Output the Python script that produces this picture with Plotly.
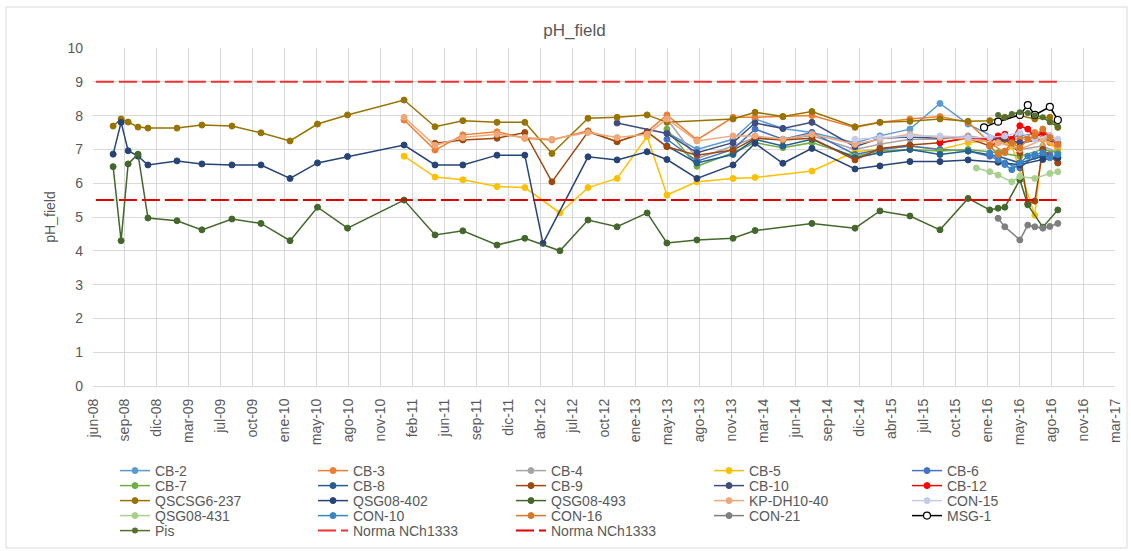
import plotly.graph_objects as go
import pandas as pd

# ---------------- data ----------------
chart_title = "pH_field"
y_title = "pH_field"

x_tick_labels = ["jun-08", "sep-08", "dic-08", "mar-09", "jul-09", "oct-09", "ene-10", "may-10",
                 "ago-10", "nov-10", "feb-11", "jun-11", "sep-11", "dic-11", "abr-12", "jul-12",
                 "oct-12", "ene-13", "may-13", "ago-13", "nov-13", "mar-14", "jun-14", "sep-14",
                 "dic-14", "abr-15", "jul-15", "oct-15", "ene-16", "may-16", "ago-16", "nov-16",
                 "mar-17"]
x_axis_start = "2008-06-01"
x_tick_step_days = 100

early_dates = ["2008-08-03", "2008-08-28", "2008-09-19", "2008-10-20", "2008-11-20", "2009-02-19",
               "2009-05-08", "2009-08-10", "2009-11-09", "2010-02-08", "2010-05-05", "2010-08-07"]

cb2_dates = ["2013-05-03", "2013-08-05", "2013-11-26", "2014-02-03", "2014-05-01", "2014-07-31",
             "2014-12-13", "2015-03-01", "2015-06-03", "2015-09-05", "2015-12-02", "2016-03-05",
             "2016-05-12", "2016-07-23", "2016-09-08"]
cb2_ph = [7.50, 7.00, 7.30, 7.90, 7.62, 7.50, 7.20, 7.40, 7.60, 8.36, 7.75, 7.30, 7.40, 7.50, 7.20]

cb3_dates = ["2011-01-31", "2011-05-08", "2011-08-03", "2011-11-18", "2012-02-13", "2012-05-08",
             "2012-08-29", "2012-11-28", "2013-03-02", "2013-05-03", "2013-08-05", "2013-11-26",
             "2014-02-03", "2014-05-01", "2014-07-31", "2014-12-13", "2015-03-01", "2015-06-03",
             "2015-09-05", "2015-12-02", "2016-02-08", "2016-03-26", "2016-05-12", "2016-06-28",
             "2016-08-14", "2016-09-08"]
cb3_ph = [7.87, 6.98, 7.43, 7.52, 7.33, 7.28, 7.55, 7.23, 7.52, 8.02, 7.28, 7.95, 7.95, 7.97, 8.00,
          7.65, 7.80, 7.90, 7.97, 7.80, 7.20, 6.90, 7.30, 7.50, 7.20, 7.00]

cb4_dates = ["2013-05-03", "2013-08-05", "2013-11-26", "2014-02-03", "2014-05-01", "2014-07-31",
             "2014-12-13", "2015-03-01", "2015-06-03", "2015-09-05", "2015-12-02", "2016-03-05",
             "2016-05-12", "2016-07-23", "2016-09-08"]
cb4_ph = [7.90, 6.73, 7.10, 7.35, 7.30, 7.40, 7.00, 7.15, 7.30, 7.30, 7.40, 7.25, 7.00, 7.10, 6.90]

cb5_dates = ["2011-01-31", "2011-05-08", "2011-08-03", "2011-11-18", "2012-02-13", "2012-06-02",
             "2012-08-29", "2012-11-28", "2013-03-02", "2013-05-03", "2013-08-05", "2013-11-26",
             "2014-02-03", "2014-07-31", "2014-12-13", "2015-03-01", "2015-06-03", "2015-09-05",
             "2015-12-02", "2016-03-05", "2016-04-17", "2016-06-28", "2016-07-23", "2016-09-08"]
cb5_ph = [6.80, 6.18, 6.10, 5.90, 5.87, 5.12, 5.87, 6.14, 7.38, 5.65, 6.04, 6.14, 6.17, 6.36, 6.93,
          7.00, 7.10, 7.00, 7.20, 7.30, 7.10, 5.05, 7.30, 7.00]

cb6_dates = ["2013-05-03", "2013-08-05", "2013-11-26", "2014-02-03", "2014-05-01", "2014-07-31",
             "2014-12-13", "2015-03-01", "2015-06-03", "2015-09-05", "2015-12-02", "2016-02-08",
             "2016-03-26", "2016-05-12", "2016-06-28", "2016-08-14", "2016-09-08"]
cb6_ph = [7.30, 6.65, 7.00, 7.60, 7.30, 7.50, 6.85, 7.00, 7.10, 7.00, 6.95, 6.80, 6.60, 6.45, 6.80,
          6.85, 6.60]

cb7_dates = ["2013-05-03", "2013-08-05", "2013-11-26", "2014-02-03", "2014-05-01", "2014-07-31",
             "2014-12-13", "2015-03-01", "2015-06-03", "2015-09-05", "2015-12-02", "2016-03-05",
             "2016-05-12", "2016-07-23", "2016-09-08"]
cb7_ph = [7.60, 6.50, 6.90, 7.20, 7.05, 7.20, 6.80, 6.95, 7.00, 6.95, 7.00, 6.90, 6.80, 7.00, 6.90]

cb8_dates = ["2013-05-03", "2013-08-05", "2013-11-26", "2014-02-03", "2014-05-01", "2014-07-31",
             "2014-12-13", "2015-03-01", "2015-06-03", "2015-09-05", "2015-12-02", "2016-03-05",
             "2016-05-12", "2016-07-23", "2016-09-08"]
cb8_ph = [7.10, 6.60, 6.85, 7.30, 7.10, 7.30, 6.75, 6.90, 7.00, 6.85, 6.95, 6.80, 6.60, 6.80, 6.75]

cb9_dates = ["2011-05-08", "2011-08-03", "2011-11-18", "2012-02-13", "2012-05-08", "2012-08-29",
             "2012-11-28", "2013-03-02", "2013-05-03", "2013-08-05", "2013-11-26", "2014-02-03",
             "2014-05-01", "2014-07-31", "2014-12-13", "2015-03-01", "2015-06-03", "2015-09-05",
             "2015-12-02", "2016-02-08", "2016-03-26", "2016-05-12", "2016-06-06", "2016-06-28",
             "2016-07-23", "2016-09-08"]
cb9_ph = [7.18, 7.28, 7.33, 7.50, 6.04, 7.52, 7.23, 7.52, 7.08, 6.83, 6.98, 7.33, 7.28, 7.33, 6.69,
          7.03, 7.13, 7.20, 7.33, 7.10, 7.30, 6.90, 5.40, 5.47, 7.00, 6.60]

cb10_dates = ["2012-11-28", "2013-05-03", "2013-08-05", "2013-11-26", "2014-02-03", "2014-05-01",
              "2014-07-31", "2014-12-13", "2015-03-01", "2015-06-03", "2015-09-05", "2015-12-02",
              "2016-03-05", "2016-05-12", "2016-07-23", "2016-09-08"]
cb10_ph = [7.78, 7.47, 6.90, 7.20, 7.78, 7.62, 7.80, 7.08, 7.33, 7.37, 7.33, 7.33, 7.30, 7.20, 7.30,
           7.20]

cb12_dates = ["2015-09-05", "2015-12-02", "2016-02-08", "2016-03-05", "2016-03-26", "2016-04-17",
              "2016-05-12", "2016-06-06", "2016-06-28", "2016-07-23", "2016-08-14", "2016-09-08"]
cb12_ph = [7.20, 7.35, 7.30, 7.40, 7.45, 7.30, 7.70, 7.60, 7.35, 7.50, 7.40, 7.10]

qscsg_dates = early_dates + [
    "2011-01-31", "2011-05-08", "2011-08-03", "2011-11-18", "2012-02-13", "2012-05-08",
    "2012-08-29", "2012-11-28", "2013-03-02", "2013-05-03", "2013-11-26", "2014-02-03",
    "2014-05-01", "2014-07-31", "2014-12-13", "2015-03-01", "2015-06-03", "2015-09-05",
    "2015-12-02", "2016-02-08", "2016-03-26", "2016-05-12", "2016-06-28", "2016-08-14",
    "2016-09-08"]
qscsg_ph = [7.69, 7.90, 7.81, 7.66, 7.63, 7.63, 7.72, 7.69, 7.49, 7.25, 7.75, 8.02,
            8.46, 7.67, 7.85, 7.80, 7.80, 6.88, 7.92, 7.95, 8.02, 7.80, 7.90, 8.10, 7.97, 8.12,
            7.67, 7.80, 7.83, 7.90, 7.83, 7.85, 7.95, 8.00, 7.90, 7.95, 7.65]

qsg402_dates = early_dates + [
    "2011-01-31", "2011-05-08", "2011-08-03", "2011-11-18", "2012-02-13", "2012-04-10",
    "2012-08-29", "2012-11-28", "2013-03-02", "2013-05-03", "2013-08-05", "2013-11-26",
    "2014-02-03", "2014-05-01", "2014-07-31", "2014-12-13", "2015-03-01", "2015-06-03",
    "2015-09-05", "2015-12-02", "2016-03-05", "2016-05-12", "2016-07-23", "2016-09-08"]
qsg402_ph = [6.86, 7.80, 6.96, 6.80, 6.54, 6.66, 6.57, 6.54, 6.54, 6.14, 6.60, 6.79,
             7.13, 6.54, 6.54, 6.83, 6.83, 4.22, 6.78, 6.69, 6.93, 6.70, 6.14, 6.54,
             7.18, 6.59, 7.03, 6.42, 6.51, 6.64, 6.64, 6.69, 6.62, 6.55, 6.70, 6.75]

qsg493_dates = early_dates + [
    "2011-01-31", "2011-05-08", "2011-08-03", "2011-11-18", "2012-02-13", "2012-06-02",
    "2012-08-29", "2012-11-28", "2013-03-02", "2013-05-03", "2013-08-05", "2013-11-26",
    "2014-02-03", "2014-07-31", "2014-12-13", "2015-03-01", "2015-06-03", "2015-09-05",
    "2015-12-02", "2016-02-08", "2016-03-05", "2016-03-26", "2016-05-12", "2016-06-06",
    "2016-07-23", "2016-09-08"]
qsg493_ph = [6.49, 4.30, 6.57, 6.86, 4.97, 4.89, 4.62, 4.94, 4.81, 4.30, 5.29, 4.67,
             5.50, 4.47, 4.59, 4.17, 4.37, 4.00, 4.91, 4.71, 5.12, 4.23, 4.32, 4.37,
             4.60, 4.81, 4.67, 5.18, 5.03, 4.62, 5.55, 5.21, 5.26, 5.29, 6.10, 5.36,
             4.70, 5.21]

kp_dates = ["2011-01-31", "2011-05-08", "2011-08-03", "2011-11-18", "2012-02-13", "2012-05-08",
            "2012-08-29", "2012-11-28", "2013-03-02", "2013-05-03", "2013-08-05", "2013-11-26",
            "2014-02-03", "2014-05-01", "2014-07-31", "2014-12-13", "2015-03-01", "2015-06-03",
            "2015-09-05", "2015-12-02", "2016-03-05", "2016-05-12", "2016-07-23", "2016-09-08"]
kp_ph = [7.95, 7.12, 7.35, 7.45, 7.35, 7.30, 7.50, 7.35, 7.45, 7.90, 7.25, 7.40, 7.40, 7.30, 7.45,
         7.15, 7.30, 7.45, 7.35, 7.30, 7.20, 7.00, 7.30, 7.10]

con15_dates = ["2014-12-13", "2015-03-01", "2015-06-03", "2015-09-05", "2015-12-02", "2016-02-08",
               "2016-03-26", "2016-05-12", "2016-06-28", "2016-08-14", "2016-09-08"]
con15_ph = [7.30, 7.35, 7.40, 7.40, 7.35, 7.35, 7.40, 7.50, 7.30, 7.40, 7.30]

qsg431_dates = ["2015-12-28", "2016-02-08", "2016-03-05", "2016-04-17", "2016-05-12", "2016-06-28",
                "2016-08-14", "2016-09-08"]
qsg431_ph = [6.45, 6.34, 6.24, 6.04, 6.20, 6.14, 6.29, 6.34]

con10_dates = ["2016-02-08", "2016-03-05", "2016-03-26", "2016-04-17", "2016-05-12", "2016-06-06",
               "2016-06-28", "2016-07-23", "2016-08-14", "2016-09-08"]
con10_ph = [6.90, 6.70, 6.55, 6.40, 6.60, 6.80, 6.85, 6.90, 6.75, 6.85]

con16_dates = ["2016-02-08", "2016-03-05", "2016-03-26", "2016-04-17", "2016-05-12", "2016-06-06",
               "2016-06-28", "2016-07-23", "2016-08-14", "2016-09-08"]
con16_ph = [7.10, 6.85, 6.95, 7.20, 7.05, 7.30, 7.40, 7.60, 7.35, 7.15]

con21_dates = ["2016-03-05", "2016-03-26", "2016-05-12", "2016-06-06", "2016-06-28", "2016-07-23",
               "2016-08-14", "2016-09-08"]
con21_ph = [4.96, 4.71, 4.32, 4.76, 4.71, 4.67, 4.72, 4.81]

msg1_dates = ["2016-01-21", "2016-03-05", "2016-05-12", "2016-06-06", "2016-06-28", "2016-08-14",
              "2016-09-08"]
msg1_ph = [7.65, 7.82, 8.02, 8.31, 8.02, 8.26, 7.87]

pis_dates = ["2016-03-05", "2016-03-26", "2016-04-17", "2016-05-12", "2016-06-06", "2016-06-28",
             "2016-07-23", "2016-08-14", "2016-09-08"]
pis_ph = [8.02, 7.95, 8.05, 8.10, 8.08, 8.00, 7.95, 7.80, 7.67]

norma_dates = ["2008-06-10", "2016-09-05"]
norma_max = [9.0, 9.0]
norma_min = [5.5, 5.5]

# ---------------- styling ----------------
FONT = "Liberation Sans, Arial, sans-serif"
GREY_TXT = "#595959"
GRID = "#D9D9D9"

# plot area in pixels (for placing legends / frame in paper units)
PL, PR, PT, PB = 93, 1115, 48, 386
PW, PH = PR - PL, PB - PT


def px_x(px):
    return (px - PL) / PW


def px_y(py):
    return (PB - py) / PH


series = [
    # name, dates, values, colour, legend
    ("CB-2", cb2_dates, cb2_ph, "#5B9BD5", "legend"),
    ("CB-3", cb3_dates, cb3_ph, "#ED7D31", "legend"),
    ("CB-4", cb4_dates, cb4_ph, "#A5A5A5", "legend"),
    ("CB-5", cb5_dates, cb5_ph, "#FFC000", "legend"),
    ("CB-6", cb6_dates, cb6_ph, "#4472C4", "legend"),
    ("CB-7", cb7_dates, cb7_ph, "#70AD47", "legend2"),
    ("CB-8", cb8_dates, cb8_ph, "#255E91", "legend2"),
    ("CB-9", cb9_dates, cb9_ph, "#9E480E", "legend2"),
    ("CB-10", cb10_dates, cb10_ph, "#404C80", "legend2"),
    ("CB-12", cb12_dates, cb12_ph, "#FF0000", "legend2"),
    ("QSCSG6-237", qscsg_dates, qscsg_ph, "#997300", "legend3"),
    ("QSG08-402", qsg402_dates, qsg402_ph, "#264478", "legend3"),
    ("QSG08-493", qsg493_dates, qsg493_ph, "#43682B", "legend3"),
    ("KP-DH10-40", kp_dates, kp_ph, "#F1A878", "legend3"),
    ("CON-15", con15_dates, con15_ph, "#C5CAE9", "legend3"),
    ("QSG08-431", qsg431_dates, qsg431_ph, "#A9D18E", "legend4"),
    ("CON-10", con10_dates, con10_ph, "#3B84C4", "legend4"),
    ("CON-16", con16_dates, con16_ph, "#D9772A", "legend4"),
    ("CON-21", con21_dates, con21_ph, "#7F7F7F", "legend4"),
]

fig = go.Figure()

for name, xs, ys, col, leg in series:
    assert len(xs) == len(ys), name
    fig.add_trace(go.Scatter(
        x=xs, y=ys, name=name, mode="lines+markers", legend=leg,
        line=dict(color=col, width=1.5),
        marker=dict(color=col, size=6, line=dict(color=col, width=1)),
    ))

assert len(msg1_dates) == len(msg1_ph)
fig.add_trace(go.Scatter(
    x=msg1_dates, y=msg1_ph, name="MSG-1", mode="lines+markers", legend="legend4",
    line=dict(color="#000000", width=1.5),
    marker=dict(color="#FFFFFF", size=7, line=dict(color="#000000", width=1.2)),
))

assert len(pis_dates) == len(pis_ph)
fig.add_trace(go.Scatter(
    x=pis_dates, y=pis_ph, name="Pis", mode="lines+markers", legend="legend5",
    line=dict(color="#55702F", width=1.5),
    marker=dict(color="#55702F", size=6),
))

fig.add_trace(go.Scatter(
    x=norma_dates, y=norma_max, name="Norma NCh1333", mode="lines", legend="legend5",
    line=dict(color="#F03030", width=2, dash="18px,5px"),
))
fig.add_trace(go.Scatter(
    x=norma_dates, y=norma_min, name="Norma NCh1333", mode="lines", legend="legend5",
    line=dict(color="#E00000", width=2, dash="18px,5px"),
))

# x ticks every 100 days from the axis origin
tick_dates = pd.date_range(x_axis_start, periods=len(x_tick_labels), freq=f"{x_tick_step_days}D")
tick_vals = [d.strftime("%Y-%m-%d") for d in tick_dates]

legend_rows_px = [471, 486, 501, 516, 531]
legend_names = ["legend", "legend2", "legend3", "legend4", "legend5"]
legend_layouts = {}
for lname, ry in zip(legend_names, legend_rows_px):
    legend_layouts[lname] = dict(
        orientation="h", x=px_x(115), xanchor="left", y=px_y(ry), yanchor="middle",
        entrywidth=153, entrywidthmode="pixels", traceorder="normal",
        bgcolor="rgba(0,0,0,0)", borderwidth=0,
        font=dict(family=FONT, size=14, color=GREY_TXT),
    )

fig.update_layout(
    width=1131, height=551,
    margin=dict(l=PL, r=1131 - PR, t=PT, b=551 - PB, pad=0, autoexpand=False),
    paper_bgcolor="#FFFFFF", plot_bgcolor="#FFFFFF",
    font=dict(family=FONT, size=14, color=GREY_TXT),
    title=dict(text=chart_title, x=0.508, xref="container", xanchor="center",
               y=1 - 30 / 551, yref="container", yanchor="middle",
               font=dict(family=FONT, size=17, color=GREY_TXT)),
    showlegend=True,
    xaxis=dict(
        type="date", range=[tick_vals[0], tick_vals[-1]],
        tickmode="array", tickvals=tick_vals, ticktext=x_tick_labels,
        tickangle=-90, ticks="", ticklabelstandoff=6,
        showgrid=True, gridcolor=GRID, gridwidth=1,
        showline=True, linecolor=GRID, linewidth=1,
        zeroline=False, tickfont=dict(family=FONT, size=14, color=GREY_TXT),
    ),
    yaxis=dict(
        range=[0, 10], tickmode="linear", tick0=0, dtick=1,
        ticks="", ticklabelstandoff=9,
        showgrid=True, gridcolor=GRID, gridwidth=1, zeroline=False, showline=False,
        tickfont=dict(family=FONT, size=14, color=GREY_TXT),
        title=dict(text=y_title, standoff=8, font=dict(family=FONT, size=14, color=GREY_TXT)),
    ),
    shapes=[dict(type="rect", xref="paper", yref="paper",
                 x0=px_x(6), x1=px_x(1127), y0=px_y(548), y1=px_y(7),
                 line=dict(color=GRID, width=1), fillcolor="rgba(0,0,0,0)", layer="below")],
    **legend_layouts,
)

fig.write_html("out.html", config={"displayModeBar": False},
               post_script="document.body.style.margin='0';document.body.style.overflow='hidden';")
